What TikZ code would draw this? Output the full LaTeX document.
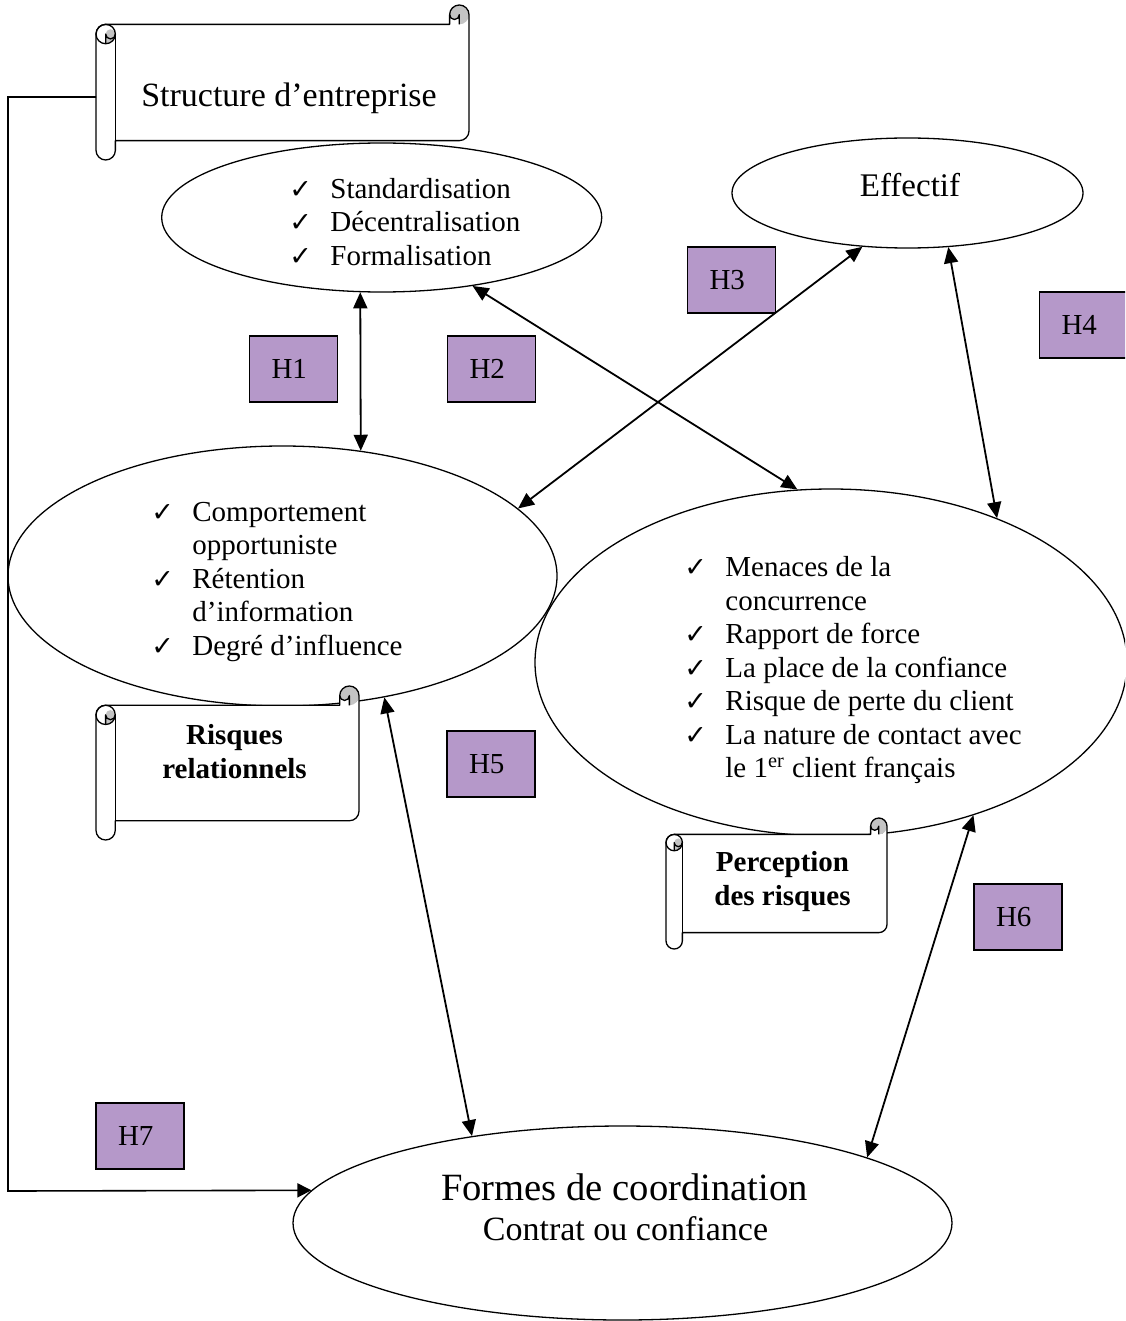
\documentclass[tikz,border=0pt]{standalone}
\usepackage{fontspec}
\setmainfont{Liberation Serif}
\newfontfamily\chkfont{DejaVu Sans}
\usetikzlibrary{shapes.geometric,arrows.meta}

\definecolor{hyp}{RGB}{181,152,201}
\definecolor{rollgray}{RGB}{196,196,196}

% check mark followed by the gap before the item text
\newcommand\ck{\makebox[20.5pt][l]{\chkfont\fontsize{13.5}{13.5}\selectfont ✓}}

% horizontal scroll banner: left x, top y, right x, bottom y (y measured downwards)
\newcommand\drawscroll[4]{%
  \pgfmathsetmacro\scL{#1}\pgfmathsetmacro\scT{-#2}%
  \pgfmathsetmacro\scR{#3}\pgfmathsetmacro\scB{-#4}%
  \pgfmathsetmacro\scC{0.125*min(#3-#1,#4-#2)}%
  \pgfmathsetmacro\scH{\scC/2}\pgfmathsetmacro\scQ{\scC/4}%
  % paper
  \fill[white] (\scR,\scT-\scH) arc[start angle=0,end angle=-90,radius=\scH]
    -- (\scR-\scH,\scT-\scH) arc[start angle=0,end angle=-180,radius=\scQ]
    -- (\scR-\scC,\scT-\scC) -- (\scL+\scH,\scT-\scC)
    arc[start angle=90,end angle=180,radius=\scH]
    -- (\scL,\scB+\scH) arc[start angle=180,end angle=360,radius=\scH]
    -- (\scL+\scC,\scB+\scC) -- (\scR-\scH,\scB+\scC)
    arc[start angle=-90,end angle=0,radius=\scH] -- cycle;
  % shaded curls
  \fill[rollgray] (\scL+\scH,\scT-2*\scC) arc[start angle=-90,end angle=0,radius=\scH]
    arc[start angle=0,end angle=180,radius=\scQ] -- cycle;
  \fill[rollgray] (\scR-\scH,\scT-\scC) arc[start angle=-90,end angle=180,radius=\scH]
    arc[start angle=180,end angle=360,radius=\scQ] -- cycle;
  % outline
  \draw[scrollline] (\scL,\scT-1.5*\scC) arc[start angle=180,end angle=90,radius=\scH]
    -- (\scR-\scC,\scT-\scC) -- (\scR-\scC,\scT-\scH)
    arc[start angle=180,end angle=0,radius=\scH]
    -- (\scR,\scB+1.5*\scC) arc[start angle=0,end angle=-90,radius=\scH]
    -- (\scL+\scC,\scB+\scC) -- (\scL+\scC,\scB+\scH)
    arc[start angle=0,end angle=-180,radius=\scH] -- cycle;
  \draw[scrollline] (\scR-\scH,\scT-\scC) -- (\scR-\scH,\scT-\scH)
    arc[start angle=0,end angle=-180,radius=\scQ];
  \draw[scrollline] (\scL+\scH,\scT-1.5*\scC) circle[radius=\scH];
  \draw[scrollline] (\scL+\scC,\scT-1.5*\scC) arc[start angle=0,end angle=-180,radius=\scQ]
    -- (\scL+\scH,\scT-2*\scC);
  \draw[scrollline] (\scL+\scC,\scT-1.5*\scC) -- (\scL+\scC,\scB+\scC);
}

\tikzset{
  oval/.style={draw, ellipse, inner sep=0pt, line width=0.65pt},
  scrollline/.style={line width=0.65pt, line join=round},
  hbox/.style={draw, fill=hyp, line width=0.65pt, minimum width=44pt,
    minimum height=33pt, text width=22pt, inner xsep=11pt, inner ysep=0pt,
    align=left, font=\fontsize{14.5}{16}\selectfont},
  link/.style={line width=0.9pt,
    {Triangle[length=8pt,width=7pt]}-{Triangle[length=8pt,width=7pt]}},
  feed/.style={line width=0.8pt, -{Triangle[length=7pt,width=7pt]}},
  items/.style={anchor=base west, inner sep=0pt, font=\fontsize{14.5}{16.75}\selectfont},
  banner/.style={anchor=base, inner sep=0pt, font=\bfseries\fontsize{14.5}{17}\selectfont},
}

\begin{document}
\begin{tikzpicture}[x=0.5pt, y=0.5pt]
\path[use as bounding box] (0,0) rectangle (1125,-1321);
\clip (0,0) rectangle (1125,-1321);
\fill[white] (0,0) rectangle (1125,-1321);

% ellipses
\node[oval, minimum width=220pt, minimum height=74.5pt] (tp) at (381.7,-217.5) {};
\node[oval, minimum width=175.5pt, minimum height=55pt] (ef) at (907.5,-193) {};
\node[oval, minimum width=274.5pt, minimum height=130pt] (lf) at (282.5,-576) {};
\node[oval, minimum width=296pt, minimum height=173.5pt] (rt) at (831,-662.5) {};
\node[oval, minimum width=329.5pt, minimum height=97pt] (bt) at (622.5,-1223) {};

% ellipse contents
\node[items] (tplist) at (289,-198.3) {\begin{tabular}[t]{@{}l@{}l@{}}
  \ck & Standardisation\\
  \ck & Décentralisation\\
  \ck & Formalisation
\end{tabular}};
\node[anchor=base, inner sep=0pt, font=\fontsize{16.5}{18}\selectfont] (eftxt) at (910,-197) {Effectif};
\node[items] (lflist) at (151,-521) {\begin{tabular}[t]{@{}l@{}l@{}}
  \ck & Comportement\\
      & opportuniste\\
  \ck & Rétention\\
      & d’information\\
  \ck & Degré d’influence
\end{tabular}};
\node[items] (rtlist) at (684,-576.7) {\begin{tabular}[t]{@{}l@{}l@{}}
  \ck & Menaces de la\\
      & concurrence\\
  \ck & Rapport de force\\
  \ck & La place de la confiance\\
  \ck & Risque de perte du client\\
  \ck & La nature de contact avec\\
      & le 1\textsuperscript{er} client français
\end{tabular}};
\node[anchor=base, inner sep=0pt, font=\fontsize{19.3}{22}\selectfont] (formes) at (624.5,-1200) {Formes de coordination};
\node[anchor=base, inner sep=0pt, font=\fontsize{17}{20}\selectfont] (contrat) at (625.5,-1240) {Contrat ou confiance};

% banners
\drawscroll{96}{5}{469}{160}
\node[anchor=base, inner sep=0pt, font=\fontsize{17}{20}\selectfont] (structure) at (289,-107) {Structure d’entreprise};
\drawscroll{96}{686}{359}{840}
\node[banner] (risques) at (234.5,-744) {\begin{tabular}[t]{@{}c@{}}Risques\\relationnels\end{tabular}};
\drawscroll{666}{818}{887}{949}
\node[banner] (perception) at (782.5,-871) {\begin{tabular}[t]{@{}c@{}}Perception\\des risques\end{tabular}};

% hypotheses
\draw[link] (tp.-106.95) -- (lf.58.51);
\draw[link] (tp.-37.32) -- (rt.101.8);
\draw[link] (ef.-130.6) -- (lf.16.33);
\draw[link] (ef.-53.6) -- (rt.41.36);
\draw[link] (lf.-50.1) -- (bt.150.8);
\draw[link] (rt.-47.24) -- (bt.15.28);
\coordinate (s1w) at (96,-97);
\coordinate (bend) at (8,-1191);
\draw[feed] (s1w) -| (bend) -- (bt.174.1);

\node[hbox] (h1) at (293.5,-369) {H1};
\node[hbox] (h2) at (491.5,-369) {H2};
\node[hbox] (h3) at (731.5,-280) {H3};
\node[hbox] (h4) at (1083.5,-325) {H4};
\node[hbox] (h5) at (491,-764) {H5};
\node[hbox] (h6) at (1018,-917) {H6};
\node[hbox] (h7) at (140,-1136) {H7};
\end{tikzpicture}
\end{document}
